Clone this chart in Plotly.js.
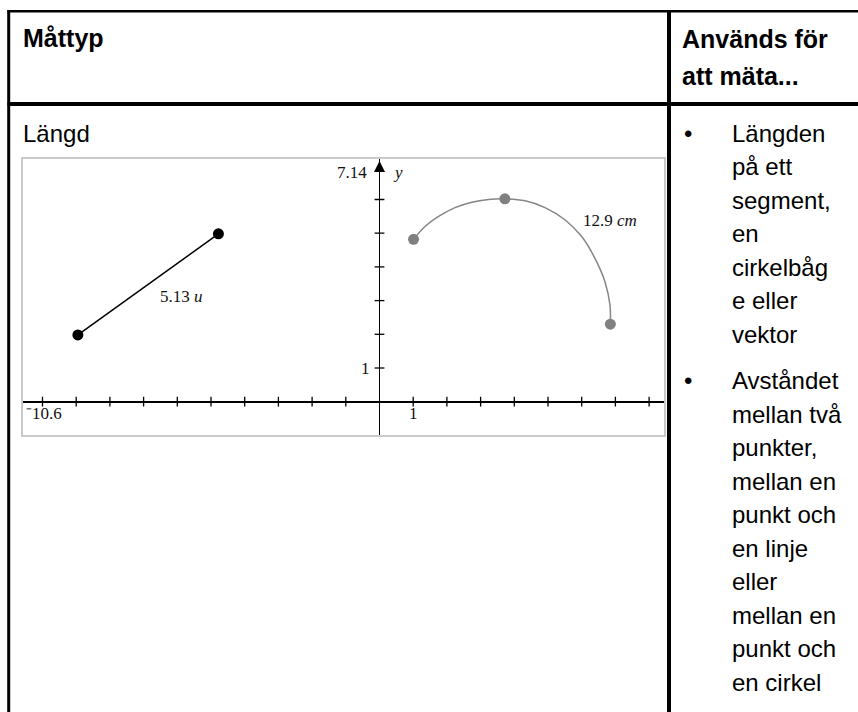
<!DOCTYPE html>
<html>
<head>
<meta charset="utf-8">
<script src="https://cdn.plot.ly/plotly-3.0.1.min.js"></script>
<style>html,body{margin:0;padding:0;background:#fff;}#chart{width:858px;height:712px;}</style>
</head>
<body>
<div id="chart"></div>
<script>
// ---------- data ----------
const headerLeft = 'Måttyp';
const headerRight = ['Används för', 'att mäta...'];
const rowLabel = 'Längd';
const bullet1Lines = ['Längden', 'på ett', 'segment,', 'en', 'cirkelbåg', 'e eller', 'vektor'];
const bullet2Lines = ['Avståndet', 'mellan två', 'punkter,', 'mellan en', 'punkt och', 'en linje', 'eller', 'mellan en', 'punkt och', 'en cirkel'];

const segX = [-8.95, -4.78];
const segY = [1.98, 4.98];
const segLabel = '5.13 <i>u</i>';

const arcX = [1.01, 1.35, 1.74, 2.24, 2.74, 3.23, 3.72, 4.32, 4.91, 5.50, 6.00, 6.39, 6.69, 6.84, 6.85];
const arcY = [4.82, 5.20, 5.49, 5.76, 5.92, 6.00, 6.02, 5.96, 5.76, 5.40, 4.90, 4.26, 3.56, 2.86, 2.30];
const arcPtX = [1.01, 3.72, 6.85];
const arcPtY = [4.82, 6.02, 2.30];
const arcLabel = '12.9 <i>cm</i>';

const xTicks = [-10, -9, -8, -7, -6, -5, -4, -3, -2, -1, 1, 2, 3, 4, 5, 6, 7, 8];
const yTicks = [1, 2, 3, 4, 5, 6];
const yMax = 7.14;
const xMinLabel = '⁻10.6', yMaxLabel = '7.14';
const unitLabel = '1';

// ---------- layout helpers ----------
const W = 858, H = 712;
const PX = v => v / W;
const PY = v => 1 - v / H;
const ox = 379.5, oy = 401.7, unit = 33.7; // pixel origin and scale of the graph
const box = {l: 22.7, r: 664.3, t: 158.8, b: 435};

const sans = 'Liberation Sans, Arial, sans-serif';
const serif = 'Liberation Serif, Times New Roman, serif';

const traces = [
  {x: xTicks, y: xTicks.map(() => 0), mode: 'markers', type: 'scatter',
   marker: {symbol: 'line-ns-open', size: 7, color: '#000', line: {width: 1.3, color: '#000'}}, hoverinfo: 'skip'},
  {x: yTicks.map(() => 0), y: yTicks, mode: 'markers', type: 'scatter',
   marker: {symbol: 'line-ew-open', size: 7, color: '#000', line: {width: 1.3, color: '#000'}}, hoverinfo: 'skip'},
  {x: [0], y: [yMax], mode: 'markers', type: 'scatter',
   marker: {symbol: 'arrow-up', size: 11, color: '#000'}, hoverinfo: 'skip'},
  {x: segX, y: segY, mode: 'lines+markers', type: 'scatter',
   line: {color: '#000', width: 1.5}, marker: {size: 11, color: '#000'}},
  {x: arcX, y: arcY, mode: 'lines', type: 'scatter',
   line: {color: '#858585', width: 1.5, shape: 'spline', smoothing: 1}},
  {x: arcPtX, y: arcPtY, mode: 'markers', type: 'scatter',
   marker: {size: 11, color: '#808080'}}
];

const annotations = [];
function addText(text, xpx, baseline, size, opts) {
  opts = opts || {};
  const ascent = 0.905, descent = 0.212;
  const center = baseline - (ascent - descent) / 2 * size;
  annotations.push(Object.assign({
    text: text, xref: 'paper', yref: 'paper', x: PX(xpx), y: PY(center),
    xanchor: 'left', yanchor: 'middle', showarrow: false, borderpad: 0,
    font: {family: sans, size: size, color: '#000'}
  }, opts));
}
addText('<b>' + headerLeft + '</b>', 22, 47, 25);
addText('<b>' + headerRight[0] + '</b>', 681, 47.5, 25);
addText('<b>' + headerRight[1] + '</b>', 681, 84.5, 25);
addText(rowLabel, 22, 142, 24);
const lh = 33.5;
const b1 = 141.5;
addText('•', 683, b1, 24);
bullet1Lines.forEach((t, i) => addText(t, 730.5, b1 + i * lh, 24));
const b2 = 389;
addText('•', 683, b2, 24);
bullet2Lines.forEach((t, i) => addText(t, 730.5, b2 + i * lh, 24));

// graph labels (data coords)
const gfont = {family: serif, size: 17, color: '#111'};
const dx = p => (p - ox) / unit, dy = p => (oy - p) / unit;
annotations.push({text: segLabel, xref: 'x', yref: 'y', x: dx(181.5), y: dy(296.7), showarrow: false, font: gfont, xanchor: 'center', yanchor: 'middle'});
annotations.push({text: arcLabel, xref: 'x', yref: 'y', x: dx(610), y: dy(220), showarrow: false, font: gfont, xanchor: 'center', yanchor: 'middle'});
annotations.push({text: yMaxLabel, xref: 'x', yref: 'y', x: dx(367.5), y: dy(173), showarrow: false, font: gfont, xanchor: 'right', yanchor: 'middle', borderpad: 0});
annotations.push({text: '<i>y</i>', xref: 'x', yref: 'y', x: dx(391.5), y: dy(173), showarrow: false, font: gfont, xanchor: 'left', yanchor: 'middle', borderpad: 0});
annotations.push({text: unitLabel, xref: 'x', yref: 'y', x: dx(365.7), y: 1, showarrow: false, font: gfont, xanchor: 'center', yanchor: 'middle'});
annotations.push({text: unitLabel, xref: 'x', yref: 'y', x: 1, y: dy(413.3), showarrow: false, font: gfont, xanchor: 'center', yanchor: 'middle'});
annotations.push({text: xMinLabel, xref: 'x', yref: 'y', x: dx(24.5), y: dy(413.3), showarrow: false, font: gfont, xanchor: 'left', yanchor: 'middle', borderpad: 0});

const shapes = [
  {type: 'line', xref: 'paper', yref: 'paper', x0: PX(7.5), x1: 1, y0: PY(11.3), y1: PY(11.3), line: {color: '#000', width: 2.5}},
  {type: 'line', xref: 'paper', yref: 'paper', x0: PX(8.7), x1: PX(8.7), y0: PY(10), y1: 0, line: {color: '#000', width: 3}},
  {type: 'line', xref: 'paper', yref: 'paper', x0: PX(7.5), x1: 1, y0: PY(104), y1: PY(104), line: {color: '#000', width: 4}},
  {type: 'line', xref: 'paper', yref: 'paper', x0: PX(669), x1: PX(669), y0: PY(10), y1: 0, line: {color: '#000', width: 4}}
];

const axisCommon = {showgrid: false, showticklabels: false, ticks: '', zeroline: true,
  zerolinecolor: '#000', zerolinewidth: 1.6, showline: true, mirror: true,
  linecolor: '#c9c9c9', linewidth: 1.5, fixedrange: true};

const layout = {
  width: W, height: H, margin: {l: 0, r: 0, t: 0, b: 0},
  paper_bgcolor: '#fff', plot_bgcolor: '#fff', showlegend: false,
  xaxis: Object.assign({}, axisCommon, {domain: [PX(box.l), PX(box.r)], range: [dx(box.l), dx(box.r)]}),
  yaxis: Object.assign({}, axisCommon, {domain: [PY(box.b), PY(box.t)], range: [dy(box.b), dy(box.t)]}),
  shapes: shapes, annotations: annotations
};

Plotly.newPlot('chart', traces, layout, {staticPlot: true, displayModeBar: false});
</script>
</body>
</html>
